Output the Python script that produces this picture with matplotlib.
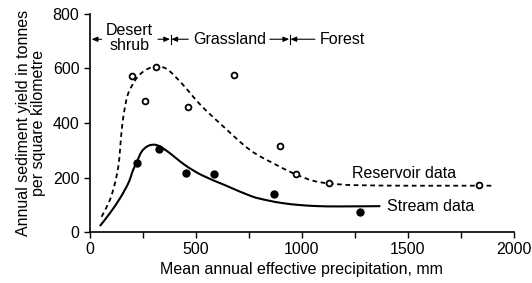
import matplotlib
matplotlib.use("Agg")
import matplotlib.pyplot as plt
import numpy as np
from matplotlib.path import Path
from matplotlib.patches import PathPatch

plt.rcParams['font.family'] = ['Liberation Sans', 'DejaVu Sans']

# Data
reservoir_x = [197, 259, 310, 464, 681, 899, 970, 1129, 1836]
reservoir_y = [574, 482, 604, 458, 576, 317, 212, 179, 172]
stream_x = [223, 327, 451, 583, 868, 1274]
stream_y = [254, 303, 215, 212, 139, 75]

reservoir_curve_x = [55, 94, 118, 134, 142, 150, 163, 181, 220, 259, 307, 362, 432,
                     522, 621, 755, 880, 967, 1053, 1132, 1250, 1500, 1700, 1900]
reservoir_curve_y = [56, 117, 179, 240, 301, 375, 448, 509, 564, 592, 607, 598, 546,
                     466, 393, 301, 246, 213, 188, 178, 172, 170, 170, 170]
stream_curve_x = [47, 94, 142, 181, 204, 222, 244, 275, 314, 362, 448, 527, 637,
                  760, 833, 910, 991, 1080, 1179, 1370]
stream_curve_y = [22, 69, 124, 179, 228, 258, 295, 316, 319, 298, 246, 209, 172,
                  132, 117, 106, 99, 95, 94, 95]

x_ticks = [0, 500, 1000, 1500, 2000]
y_ticks = [0, 200, 400, 600, 800]

FS = 11.5


def smooth_path(xs, ys):
    pts = np.column_stack([xs, ys]).astype(float)
    n = len(pts)
    verts = [pts[0]]
    codes = [Path.MOVETO]
    for i in range(n - 1):
        p0 = pts[i - 1] if i > 0 else pts[i]
        p1 = pts[i]
        p2 = pts[i + 1]
        p3 = pts[i + 2] if i + 2 < n else pts[i + 1]
        c1 = p1 + (p2 - p0) / 6.0
        c2 = p2 - (p3 - p1) / 6.0
        verts += [c1, c2, p2]
        codes += [Path.CURVE4] * 3
    return Path(verts, codes)


fig = plt.figure(figsize=(5.32, 2.83), dpi=100)
ax = fig.add_axes([0.169, 0.180, 0.797, 0.771])

ax.add_patch(PathPatch(smooth_path(reservoir_curve_x, reservoir_curve_y),
                       fill=False, edgecolor='black', lw=1.3,
                       linestyle=(0, (2.6, 2.0)), capstyle='butt'))
ax.add_patch(PathPatch(smooth_path(stream_curve_x, stream_curve_y),
                       fill=False, edgecolor='black', lw=1.5))
ax.plot(reservoir_x, reservoir_y, 'o', ms=4.2, mfc='white', mec='black',
        mew=1.3, ls='none', zorder=3)
ax.plot(stream_x, stream_y, 'o', ms=5, color='black', ls='none', zorder=3)

ax.text(1234, 215, 'Reservoir data', fontsize=FS, va='center', ha='left')
ax.text(1400, 95, 'Stream data', fontsize=FS, va='center', ha='left')

# zone annotations
ya = 707
arrow_kw = dict(arrowstyle='-|>,head_length=0.35,head_width=0.15', color='black',
                lw=0.8, shrinkA=0, shrinkB=0)
ax.annotate('', xy=(8, ya), xytext=(55, ya), arrowprops=arrow_kw)
ax.annotate('', xy=(378, ya), xytext=(321, ya), arrowprops=arrow_kw)
ax.plot([381, 381], [ya - 17, ya + 17], color='black', lw=0.8)
ax.annotate('', xy=(384, ya), xytext=(464, ya), arrowprops=arrow_kw)
ax.annotate('', xy=(940, ya), xytext=(849, ya), arrowprops=arrow_kw)
ax.plot([943, 943], [ya - 17, ya + 17], color='black', lw=0.8)
ax.annotate('', xy=(946, ya), xytext=(1061, ya), arrowprops=arrow_kw)
ax.text(186, 710, 'Desert\nshrub', fontsize=FS, ha='center', va='center',
        linespacing=1.0)
ax.text(486, ya, 'Grassland', fontsize=FS, ha='left', va='center')
ax.text(1082, ya, 'Forest', fontsize=FS, ha='left', va='center')

ax.set_xlim(0, 2000)
ax.set_ylim(0, 800)
ax.set_xticks(x_ticks)
ax.set_xticks([250, 750, 1250, 1750], minor=True)
ax.set_yticks(y_ticks)
ax.tick_params(axis='both', which='both', direction='out', labelsize=FS,
               width=1.0, color='black')
ax.tick_params(axis='both', which='major', length=4)
ax.tick_params(axis='x', which='minor', length=4)
for s in ['top', 'right']:
    ax.spines[s].set_visible(False)
for s in ['left', 'bottom']:
    ax.spines[s].set_linewidth(1.2)

ax.set_xlabel('Mean annual effective precipitation, mm', fontsize=FS, labelpad=3)
ax.set_ylabel('Annual sediment yield in tonnes\nper square kilometre', fontsize=FS,
              labelpad=5, linespacing=1.0)

fig.savefig('out.png', dpi=100)
